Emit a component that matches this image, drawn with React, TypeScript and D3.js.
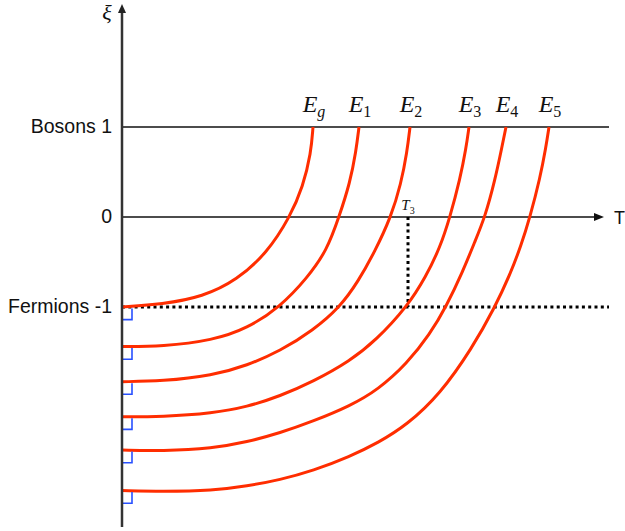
import * as d3 from "d3";
import React from "react";

// levels on the ξ axis
const levelLabels = ["Bosons 1", "0", "Fermions -1"];
const levelValues = [1, 0, -1];

// one curve per energy level, points are [T, ξ]
const energyNames = ["g", "1", "2", "3", "4", "5"];
const curveEg = [[0, -1.0], [4, -0.97], [8.1, -0.886], [11.5, -0.7], [14.5, -0.4], [16.8, 0], [18.1, 0.34], [18.9, 0.71], [19.1, 1.0]];
const curveE1 = [[0, -1.44], [4, -1.44], [9.1, -1.37], [12.5, -1.24], [15.8, -1.0], [18.5, -0.68], [20.5, -0.37], [21.7, 0], [22.8, 0.38], [23.4, 0.73], [23.7, 1.0]];
const curveE2 = [[0, -1.83], [4, -1.825], [9.1, -1.76], [12.5, -1.65], [15.8, -1.49], [19.1, -1.26], [21.8, -1.0], [23.6, -0.72], [25.3, -0.38], [26.9, 0], [27.9, 0.37], [28.5, 0.72], [28.8, 1.0]];
const curveE3 = [[0, -2.22], [4, -2.22], [9.1, -2.18], [12.5, -2.11], [15.8, -1.99], [19.1, -1.83], [22.8, -1.6], [25.4, -1.37], [28.5, -1.0], [30.4, -0.66], [31.8, -0.34], [32.8, 0], [33.8, 0.42], [34.4, 0.76], [34.7, 1.0]];
const curveE4 = [[0, -2.59], [4, -2.6], [9.1, -2.57], [12.5, -2.5], [15.8, -2.4], [19.1, -2.27], [22.8, -2.1], [25.6, -1.92], [28.5, -1.63], [30.8, -1.3], [32.4, -1.0], [34.1, -0.6], [35.3, -0.27], [36.3, 0], [37.3, 0.41], [38.0, 0.78], [38.4, 1.0]];
const curveE5 = [[0, -3.04], [4, -3.05], [9.1, -3.04], [12.5, -2.99], [15.8, -2.92], [19.1, -2.82], [22.8, -2.66], [25.6, -2.51], [28.5, -2.31], [31.8, -1.97], [35.0, -1.46], [37.3, -1.0], [38.8, -0.64], [39.9, -0.32], [40.8, 0], [41.8, 0.43], [42.4, 0.78], [42.7, 1.0]];
const curves = [curveEg, curveE1, curveE2, curveE3, curveE4, curveE5];

// T3: where E3 meets ξ = -1
const t3 = 28.6;

// small blue step under each curve start
const stepDepth = 0.14;
const stepWidth = 1;

export default function App() {
  const width = 625;
  const height = 531;

  const x = d3.scaleLinear().domain([0, 50]).range([122, 622]);
  const y = d3.scaleLinear().domain([-1, 1]).range([307, 127]);

  const line = d3
    .line<number[]>()
    .x((d) => x(d[0]))
    .y((d) => y(d[1]))
    .curve(d3.curveBasis);

  const x0 = x(0);
  const xEnd = x(48.7);
  const yTop = 4;
  const yBottom = 527;
  const serif = "'Liberation Serif', 'DejaVu Serif', serif";
  const sans = "'Liberation Sans', Arial, sans-serif";

  return (
    <svg
      width={width}
      height={height}
      style={{ position: "absolute", left: 0, top: 0, background: "#fff" }}
    >
      {/* Bosons line */}
      <line x1={x0} x2={xEnd} y1={y(1)} y2={y(1)} stroke="#111" strokeWidth={1.5} />
      {/* T axis with arrow */}
      <line x1={x0} x2={x(47.8)} y1={y(0)} y2={y(0)} stroke="#111" strokeWidth={1.5} />
      <path
        d={`M${x(48.2)},${y(0)} L${x(47.2)},${y(0) - 4} L${x(47.2)},${y(0) + 4} Z`}
        fill="#111"
      />
      <text x={614} y={y(0) + 7} fontFamily={sans} fontSize={18} fill="#111">
        T
      </text>

      {/* Fermions dotted line */}
      <line
        x1={x0}
        x2={xEnd}
        y1={y(-1)}
        y2={y(-1)}
        stroke="#000"
        strokeWidth={3}
        strokeDasharray="3 3.3"
      />
      {/* T3 dotted drop */}
      <line
        x1={x(t3)}
        x2={x(t3)}
        y1={y(0)}
        y2={y(-1)}
        stroke="#000"
        strokeWidth={3}
        strokeDasharray="3 3.3"
      />
      <text x={x(t3)} y={210} textAnchor="middle" fontFamily={serif} fontStyle="italic" fontSize={15} fill="#111">
        T
        <tspan fontStyle="normal" fontSize={10} dy={4}>
          3
        </tspan>
      </text>

      {/* level labels */}
      {levelLabels.map((label, i) => (
        <text
          key={label}
          x={112}
          y={y(levelValues[i]) + 6}
          textAnchor="end"
          fontFamily={sans}
          fontSize={19.5}
          fill="#111"
        >
          {label}
        </text>
      ))}

      {/* red curves */}
      {curves.map((c, i) => (
        <path key={i} d={line(c) ?? ""} fill="none" stroke="#ff2d00" strokeWidth={3} />
      ))}

      {/* blue steps */}
      {curves.map((c, i) => (
        <path
          key={"s" + i}
          d={`M${x(stepWidth)},${y(c[0][1]) + 1.5} L${x(stepWidth)},${y(c[0][1] - stepDepth)} L${x0},${y(c[0][1] - stepDepth)}`}
          fill="none"
          stroke="#2850ff"
          strokeWidth={1.6}
        />
      ))}

      {/* energy labels at curve tops */}
      {curves.map((c, i) => (
        <text
          key={"e" + i}
          x={x(c[c.length - 1][0]) + 1}
          y={112}
          textAnchor="middle"
          fontFamily={serif}
          fontStyle="italic"
          fontSize={24}
          fill="#111"
        >
          E
          <tspan fontStyle={energyNames[i] === "g" ? "italic" : "normal"} fontSize={16} dy={5}>
            {energyNames[i]}
          </tspan>
        </text>
      ))}

      {/* ξ axis with arrow */}
      <line x1={x0} x2={x0} y1={yBottom} y2={yTop + 8} stroke="#333" strokeWidth={2.5} />
      <path d={`M${x0},${yTop} L${x0 - 4},${yTop + 9} L${x0 + 4},${yTop + 9} Z`} fill="#222" />
      <text x={107} y={20} textAnchor="middle" fontFamily={serif} fontStyle="italic" fontSize={22} fill="#111">
        ξ
      </text>
    </svg>
  );
}
